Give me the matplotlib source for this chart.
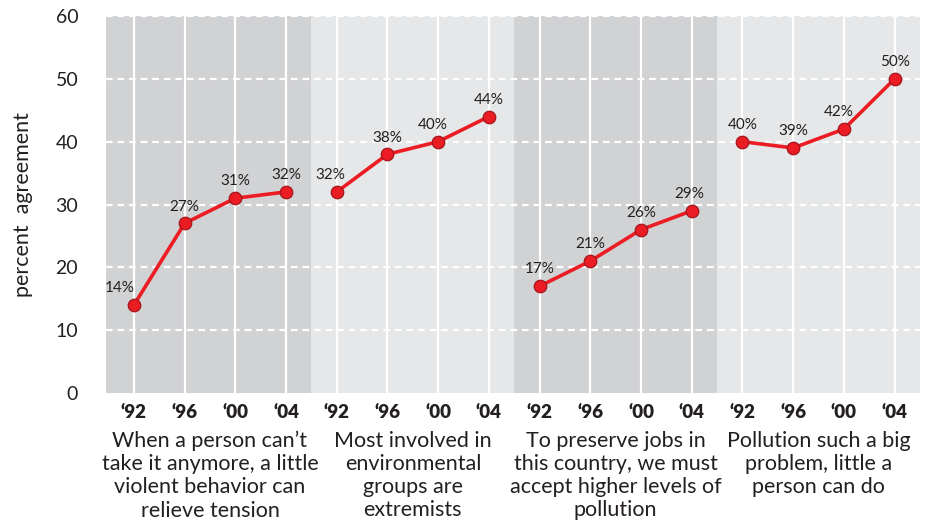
import numpy as np
import matplotlib
matplotlib.use("Agg")
import matplotlib.pyplot as plt
from matplotlib.transforms import blended_transform_factory

# ------------------------------------------------------------
# DATA
# ------------------------------------------------------------
years = ["\u201892", "\u201896", "\u201800", "\u201804"]

statements = [
    "When a person can\u2019t\ntake it anymore, a little\nviolent behavior can\nrelieve tension",
    "Most involved in\nenvironmental\ngroups are\nextremists",
    "To preserve jobs in\nthis country, we must\naccept higher levels of\npollution",
    "Pollution such a big\nproblem, little a\nperson can do",
]

violence = [14, 27, 31, 32]
extremists = [32, 38, 40, 44]
jobs = [17, 21, 26, 29]
too_big = [40, 39, 42, 50]
series = [violence, extremists, jobs, too_big]

# ------------------------------------------------------------
# STYLE
# ------------------------------------------------------------
plt.rcParams["font.family"] = ["Lato", "DejaVu Sans"]

DARK_BG = "#d1d2d4"
LIGHT_BG = "#e6e7e8"
LINE_RED = "#ec1c24"
EDGE_RED = "#a1161b"
TEXT = "#231f20"

# horizontal nudge (points) for the value labels, per point
label_dx = [
    [-10, 0, 0, 0],
    [-5, 0, -4, 0],
    [0, 0, 0, -2],
    [0, 0, -4, 0],
]

fig = plt.figure(figsize=(9.36, 5.28), dpi=100)
ax = fig.add_axes([106 / 936, 1 - 393 / 528, 814 / 936, 377 / 528])

n_per = len(years)
n_groups = len(series)
step = n_per  # consecutive groups sit next to each other
ax.set_xlim(-0.55, n_groups * n_per - 1 + 0.5)
ax.set_ylim(0, 60)

# alternating panel backgrounds
for g in range(n_groups):
    left = g * step - 0.5 if g > 0 else -0.55
    right = g * step + n_per - 0.5
    ax.axvspan(left, right, color=DARK_BG if g % 2 == 0 else LIGHT_BG,
               lw=0, zorder=0)

xs_all = np.arange(n_groups * n_per)

# white vertical grid at each survey year, dashed horizontal grid
for x in xs_all:
    ax.axvline(x, color="white", lw=1.6, zorder=1)
for y in range(10, 61, 10):
    ax.axhline(y, color="white", lw=1.6, ls=(0, (3, 2.2)), zorder=1)

for g, vals in enumerate(series):
    xs = np.arange(n_per) + g * step
    ax.plot(xs, vals, color=LINE_RED, lw=2.6, zorder=3,
            solid_capstyle="round")
    ax.plot(xs, vals, ls="none", marker="o", markersize=9,
            markerfacecolor=LINE_RED, markeredgecolor=EDGE_RED,
            markeredgewidth=0.9, zorder=4)
    for i, (x, v) in enumerate(zip(xs, vals)):
        ax.annotate(f"{v}%", (x, v), xytext=(label_dx[g][i], 7),
                    textcoords="offset points", ha="center", va="bottom",
                    fontsize=11, color=TEXT, zorder=5)

ax.set_xticks(xs_all)
ax.set_xticklabels(years * n_groups, fontsize=13.5, fontweight="heavy",
                   color=TEXT)
ax.tick_params(axis="x", length=0, pad=8)
ax.set_yticks(range(0, 61, 10))
ax.tick_params(axis="y", length=0, labelsize=14, labelcolor=TEXT, pad=20)
for s in ax.spines.values():
    s.set_visible(False)

ax.set_ylabel("percent  agreement", fontsize=15.5, color=TEXT, labelpad=16)

# statement text under each panel
trans = blended_transform_factory(ax.transData, ax.transAxes)
for g, txt in enumerate(statements):
    cx = g * step + (n_per - 1) / 2
    ax.text(cx, -0.1, txt, transform=trans, ha="center", va="top",
            fontsize=15.5, color=TEXT, linespacing=1.2)

fig.savefig("out.png", dpi=100)
